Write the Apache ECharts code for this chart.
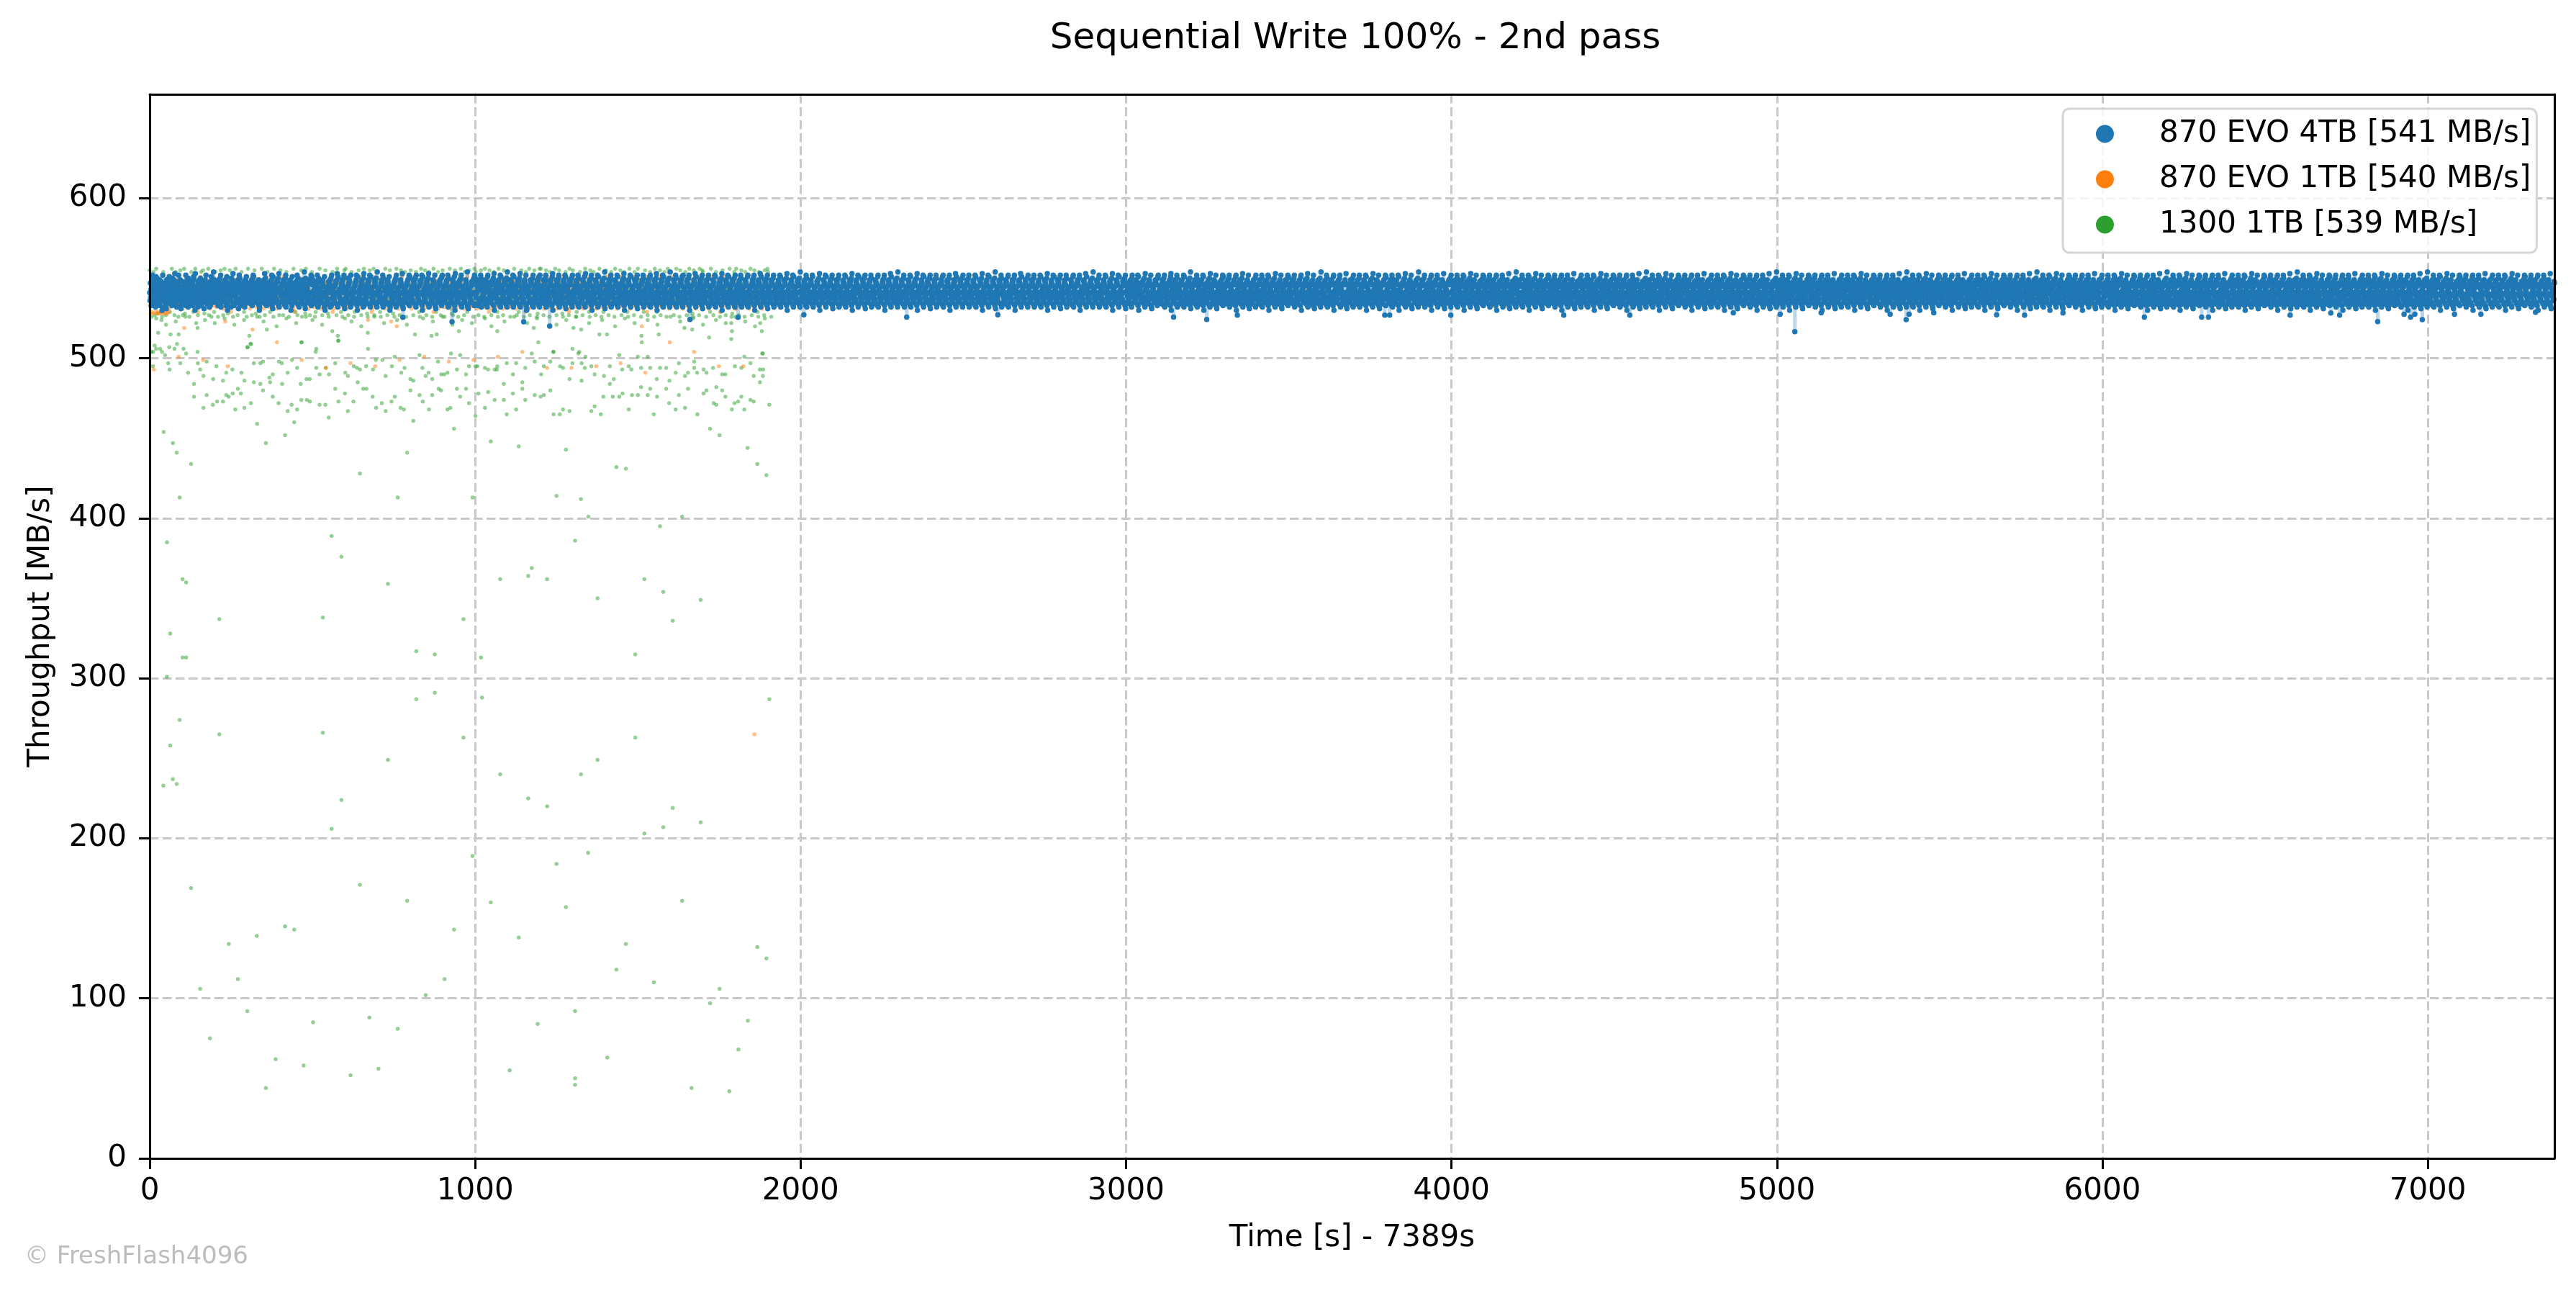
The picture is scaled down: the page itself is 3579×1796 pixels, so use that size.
<!DOCTYPE html>
<html>
<head>
<meta charset="utf-8">
<script src="https://cdn.jsdelivr.net/npm/echarts@6/dist/echarts.min.js"></script>
<style>
html,body{margin:0;padding:0;background:#ffffff;}
#chart{width:3579px;height:1796px;}
</style>
</head>
<body>
<div id="chart"></div>
<script>
// ---------------- DATA ----------------
const chartTitle = 'Sequential Write 100% - 2nd pass';
const xAxisTitle = 'Time [s] - 7389s';
const yAxisTitle = 'Throughput [MB/s]';
const xTicks = [0, 1000, 2000, 3000, 4000, 5000, 6000, 7000];
const yTicks = [0, 100, 200, 300, 400, 500, 600];
const seriesNames = ['870 EVO 4TB [541 MB/s]', '870 EVO 1TB [540 MB/s]', '1300 1TB [539 MB/s]'];
const runEnd = [7389, 1890, 1910];   // last second of each run

// band readings: one letter per sample; letter a = 526 MB/s, b = 527 ... E = 556
const levelLetters = 'abcdefghijklmnopqrstuvwxyzABCDE';
const levelBase = 526;
const evo4tbStep = 1;   // seconds between samples
const evo1tbStep = 2;
const s1300Step = 2;

const evo4tbBand = [
'pkvmrhsxAo tjwnqilugz rmpyksovij xqhnwtlreu Akmpvsgjqn ofxriwtlkm zsnvjqpuhy lrokxtmBiw qsjgnuvlpA rtkmxofhsi',
'wlqnjtvpsk iAhrmxougy nkrsjqpwlt mvhixzqole Bsjtrnkpgw uqmxlvyiho srnjkwtfqp xlmAvsiroq kujgpnhwtz lrqsvmCjkx',
'onqtvjrsml hkwxpiyuAg mjsqrlotvn kwxpuhizse qjnvmtrlok gyspxwBiuh nqrtomkjsv lxpfwAiyhq umsnkrotvj pwgixlqzsm',
'tvrjnpsqlk oimxwhuyAz kqsnjrtvom lpuwixhegs rqnvmkotjl sxwBpiyuqh mrjntvkosl qwpixAhufz ntkqrmsojv lwxpiyhBgs',
'jqrsntvolk mxwpiuhyAg sqnrjktvmo lwxpeuihzs qnrvtmkojl swpAxiyuhg rntqmvksoj lxwpiCuhfy nqrtsmkjvo lpxwiyAhzu',
'uoxkqmjrws nlitvApghy qrkwoslmnj vuxtpigzhe mnosqrkjtl wivuxgpyhA srmqjnklot uwvpixBhgz oqnrmjkslt vxwuipyAhf',
'lrjmsqonkt yvuxwipgAh nkroqjmslt puvwxAihez kmqjnrsolt wvxiupgyBh jlqrnkmsot vuxwipAhgz rsqmknjlot xwuvpiyhgC',
'sjnqrkomlt pvuxwiAgyh mkslqnrjot vxwuipzheg qjrnmskotl uvwixpygAh nmrsjqkolt wxvupiBhgf ksqrnmjtlo vuwxpiyAhz',
'mnqjrsltko xvwupiyhgA rsqnmjlkto uwpvxiAhez jqnrmsklto vwxupiyBgh srnqjmltko xupwviAhgf qmrnsjktlo wvxupiyhzA',
'knrsqjmtlo uvwxpiAgyh qsnmrjktlo xpvwuizheB nrqjsmlkto vwuxpiyAhg mqsnrjtklo uxwvpiCghf rsnqmjltko wvupxiyhAz',
'vonmiptxqh swrkjulAyg mrvtqonkjs pxilwuhgzA ksqtmornjv wlpixuyhBe nqrvomsktj lwxupihAgz ksrtqnmojv xlwpiuyhgC',
'rltjmnoxks qwvpuiAghz nsojrmqtkl vxpuwiyhBg tqmnrjoskl wpxvuiAhef rsnoqmjtkl xvwpuihyAg kqrmnjotsl vwxpiuzhgA',
'snqtkmorjl xpuviwyAgh mrkosnqtjl wvxpuihzBe qtsnrokmjl xvpwuiyAhg snkrqomtjl pwxvuiAhzf rmqtsnkojl vxwupiyhgA',
'mjqonrtkls wvpxuiAhyg rsnmjqotkl pxwvuizhgB qntrmsjokl vwxpuiyAhe kmsrnqotjl xwvupiAghz qrtmnsjokl wpxvuiyhCf',
'oqkrnmtsjl vxupwiyAgh nqrmsojtkl xwupviAhzg smrnqktojl vpwxuiyBhe rnqskmtojl wxvupiAhgz mqnrsjtokl xpvwuiyhAf',
'tnkqsrmjol upvxwiAygh qmrnskjotl vwxpuihzAg rsnqmkjtol xpwvuiyBhe nqsrmkotjl vuxwpiAhgz smqrnktojl wvxpuiyhgC',
'lqnrmstkjo xwvupiAhyg srqmnkojtl pvwxuizhgA mnrqskjotl wxvpuiyAhe qsrnmktojl upxwviBhgz nrmqsktjol vxwpuiyhAf',
'rsmnqkltjo wvxpuiyAgh nqsrmkotjl xuvwpiAhzg qmnsrkjotl vpxwuiyhBe srnqmkotjl wxupviAhgz mnqrsktjol xvwpuiyhgA',
'kmqrnsotjl vwpxuiAyhg rnsqmkjotl xwvupihzAg nqmrskotjl pvxwuiyAhe smrqnkjotl wuxvpiBhgz qrnmskotjl xvwpuiyhAf',
'nsrqmkotjl wxvpuiyAgh mqrnskjotl vpxwuiAhzg rnsqkmotjl xwvupiyhBe qmnrsktojl vxwpuiAhgz snrqmkjotl wpxvuiyhgC',
'qjtmnrskol pwvxuihAyg snrkqmtojl vxwpuiAzhg mqrsnktjol wuvxpiyhBe rnqmsjktol xpwvuiAhgz qsnrmktjol vwxpuiyAhf',
'msnqrkjtol xvwupiyAgh qrnmskotjl wpxvuiAhzg nsrqkmjotl vxuwpiyhBe mqrnsktojl wvxpuiAghz rsqnmkjtol xwpvuiyhAf',
'rqnmskjotl vuxwpiAygh nsmqrktojl xwvpuihzAg qrsnmkjotl pvwxuiyAhe snqrmkotjl wxvupiBhgz mrnqsktjol vxwpuiyhgC',
'snqkrmotjl wvxpuiyAhg qmnrskjotl xpvwuiAhzg rsnqmktojl vwxupiyhBe nqsmrkjotl uxwvpiAhgz qrmnsktojl wvxpuiyhAf',
'kqrnsmjotl xwvupiAygh rsnqmkotjl vpxwuizhAg mnqrskjotl wxvupiyAhe qsrnmkjotl vxupwiBhgz nrqmskotjl xwvpuiyhgA',
'tmrqnskjol vxwpuiyAgh nqsrmkjotl wvxpuiAhzg srqnmktojl xpwvuiyhBe mnrqskjotl vwxupiAhgz qsnrmkjotl wxvpuiyhCf',
'lnqrsmktjo wpxvuiAygh qrsnmkojtl xvwpuihzAg nmqrskjotl vxwupiyAhe rsqnmktojl wpxvuiBhgz qnrsmkjotl vxwpuiyhgA',
'qrsmnkjotl xvwpuiyAgh snrqmkotjl vwxpuiAhzg mqnrskjotl xwvupiyhBe rnsqmkjotl wvxpuiAhgz qmrnsktojl xvwupiyhAf',
'nsmqrkotjl vwxpuiAygh qrnsmkjotl xpwvuihzAg srnqmkotjl vxwupiyAhe mnqrskjotl wxvpuiBhgz rqsnmkjotl vwxpuiyhgC',
'rqnsmkjotl wxvpuiyAgh mnsqrkotjl vxwpuiAhzg qrsnmkjotl wvxupiyhBe snrqmkotjl xvwpuiAhgz nqmrskjotl wxvpuiyhAf',
'vjqtnsmrkl owipxuhgyA rtnmjsqvok lxwpiuAhze snqrvtkmjo pwlxuiyhgB rmkqsntjvo ixwlpuAhgf qtrnsmjkov xwpliuhyzA',
'onkrtqsjml ivxwpuyhAg smqjnrtkvo lpiwxuhzBe tnrqmksjvo xlwipuAygh qsnrmtjkvo wpxliuhAgz kqrtnsmjvo ilxwpuyhCf',
'ksrnqtmjvo pxlwiuhAyg qmtnsrjkvo wixlpuAhze rtqnkmsjvo lpwxiuyhgB nsqrmtkjvo xilwpuAhgf tmqknrsjvo wlpxiuyAhz',
'rmqsnktjvo lwixpuyAgh tnrskqmjvo ipxwluhzAe qkmrnstjvo xwlipuyhBg smnqrtkjvo lpxiwuAhgf nqrtkmsjvo iwxlpuyhgA',
'qtsnrkmjvo xiwpluhAyg rnmqtksjvo wlpxiuAhze kqsnrtmjvo pxwliuyhgB tmrnqskjvo ilwxpuAhgf snkqrtmjvo xpwliuyAhz',
'nrtqsmkjvo lxpwiuyAgh qskrntmjvo iwlxpuhzAe mrqnsktjvo pxwliuyhBg ntqrsmkjvo wilpxuAhgf rqmkntsjvo lxwipuyhgC',
'tkqnrsmjvo pwlxiuAhyg smrqtnkjvo xilwpuhzAe nqkrmstjvo lwpxiuyAhg rstqnmkjvo ipwxluBhgf kmqnrtsjvo xlwpiuyhgA',
'sqnrtmkjvo wixlpuyAgh rkmqnstjvo pxwliuAhze tnsqrmkjvo lwxipuyhgB qmrnktsjvo xplwiuAhgf nrsqtmkjvo iwxlpuyAhz',
'mqrtnskjvo lpxwiuhAyg nstkqrmjvo wxilpuAhze rqmnstkjvo plwxiuyhBg ktnqrsmjvo ilxwpuAhgf sqrmntkjvo wpxliuyhgC',
'rnsqkmtjvo xwlpiuyAgh qtmnrskjvo iplxwuhzAe snkrqtmjvo wlxpiuAygh mrqtnskjvo pxiwluBhgf tqsnrmkjvo lwxpiuyhgA',
'kpwqmrjsvo tlxniuhAyg rqjmnskwvo plxtiuAhze nmsqrjkwvo tlpxiuyhgB qrjnsmkwvo xtlpiuAhgf msnqrjkwvo ptxliuyAhz',
'jnrqmskwvo ltpxiuyAgh sqmnrjkwvo xptliuhzAe rjnqmskwvo tlxpiuAygh nqrsjmkwvo pxltiuBhgf qmjrnskwvo ltpxiuyhgC',
'rqsjnmkwvo xltpiuhAyg jmnqrskwvo ptlxiuAhze sqnrjmkwvo lxtpiuyhgB mrqjnskwvo tplxiuAhgf qsnjrmkwvo xltpiuyAhz',
'nsjqrmkwvo pltxiuyAgh qrmjnskwvo tlxpiuhzAe jsnqrmkwvo xptliuAygh rqnmjskwvo lxtpiuBhgf snqrjmkwvo ptlxiuyhgA',
'mjrqnskwvo ltxpiuhAyg nsqjrmkwvo xtlpiuAhze qrjnmskwvo plxtiuyhgB sjnqrmkwvo ltpxiuAhgf rqmnjskwvo xlptiuyAhz',
'qnsrjmkwvo tpxliuyAgh jrqmnskwvo lxptiuhzAe nmsqjrkwvo ptlxiuAygh rjqnsmkwvo xltpiuBhgf msqrnjkwvo tplxiuyhgC',
'sjqnrmkwvo xpltiuhAyg qrnjmskwvo ltpxiuAhze mnsjqrkwvo xtlpiuyhgB jqrsnmkwvo plxtiuAhgf nrqmjskwvo ltxpiuyAhz',
'rmnqjskwvo ptlxiuyAgh sqjrnmkwvo xltpiuhzAe qnmrjskwvo tplxiuAygh jsqnrmkwvo lxptiuBhgf rnqsjmkwvo xtlpiuyhgA',
'nqjrsmkwvo ltpxiuhAyg mrsqnjkwvo xpltiuAhze jqnrsmkwvo tlxpiuyhgB smrqjnkwvo pltxiuAhgf qjnsrmkwvo xltpiuyAhz',
'jsrqnmkwvo tlxpiuyAgh nqmsjrkwvo pxtliuhzAe rsqjnmkwvo lptxiuAygh qnjmrskwvo xtlpiuBhgf sjqrnmkwvo ptlxiuyhgC',
'hqvnrtkmso jxlpwuiAyg tmrkqnvjso xplwuiAhze qnvrtmkjso lwpxuiyhgB rtkmqnvjso wxlpuiAhgf nqrvtkmjso plxwuiyAhz',
'vrqtnkmjso xwlpuiyAgh mtnqrvkjso lpwxuihzAe rvtqnmkjso xlpwuiAygh qnmtrvkjso wpxluiBhgf tvrnqkmjso lxwpuiyhgA',
'nqtvrmkjso pxlwuihAyg rvmqntkjso wlxpuiAhze tnqrvkmjso xwpluiyhgB mqvrtnkjso lpxwuiAhgf rtqnvmkjso wxlpuiyAhz',
'qrvtnkmjso lxwpuiyAgh tnqmrvkjso pwlxuihzAe vrnqtmkjso xlwpuiAygh mtqrnvkjso wpxluiBhgf nrvqtkmjso lxpwuiyhgC',
'tqnrvmkjso xwlpuihAyg vmrqntkjso lpxwuiAhze nrqtvkmjso wxlpuiyhgB qtvmrnkjso pxlwuiAhgf rnqvtmkjso lwxpuiyAhz',
'vnqrtkmjso plxwuiyAgh rqtmnvkjso xwlpuihzAe tvqnrmkjso lpwxuiAygh nrmqvtkjso xlpwuiBhgf qvrtnkmjso wxlpuiyhgA',
'rtnqvmkjso lwxpuihAyg qnvmrtkjso pxlwuiAhze vqrntkmjso xwlpuiyhgB tmnqrvkjso lpxwuiAhgf nqtvrmkjso wlxpuiyAhz',
'nvrqtkmjso xlwpuiyAgh tqmrnvkjso wpxluihzAe qrvnmtkjso lxwpuiAygh vtnqrmkjso pwlxuiBhgf rqnvtkmjso xlwpuiyhgC',
'qtrvnmkjso wpxluihAyg nrmqtvkjso lxwpuiAhze trqvnkmjso xplwuiyhgB vnqmrtkjso wlxpuiAhgf qrtnvmkjso plwxuiyAhz',
'vqnrtkmjso xwlpuiyAgh mrtqnvkjso plxwuihzAe nqvrmtkjso wxlpuiAygh tqrnvkmjso lpxwuiBhgf rnvqtmkjso xwpluiyhgA',
'kilsqnmrvt pjowxuhAyg qnkmsrvtil jopwxuAhze smrnqkvtil xpjowuyhgB nqmkrsvtil owxjpuAhgf rsnqmkvtil jpxowuyAhz',
'mrnsqkvtil owjpxuyAgh qksnrmvtil xpowjuhzAe nsqmrkvtil jwxopuAygh rmkqnsvtil pxjowuBhgf sqnrkmvtil owxpjuyhgC',
'qnrmskvtil jxpowuhAyg srkqnmvtil wjopxuAhze mnqrskvtil xpjowuyhgB rsnkqmvtil owjxpuAhgf nqmsrkvtil jpxowuyAhz',
'snqrkmvtil pwjoxuyAgh rmnsqkvtil ojxpwuhzAe qsrnkmvtil xwpojuAygh nkqmrsvtil jpxowuBhgf rqsnmkvtil owjpxuyhgA',
'rkqnsmvtil xojpwuhAyg nsmrqkvtil pwjxouAhze krqnsmvtil ojpwxuyhgB snrqmkvtil xjopwuAhgf qmnrskvtil wpjoxuyAhz',
'nrsqkmvtil jowpxuyAgh qmrnskvtil xpjowuhzAe rsnqkmvtil owxjpuAygh mqkrnsvtil jpwoxuBhgf snrmqkvtil xojpwuyhgC',
'qsnrmkvtil pxjowuhAyg krmqnsvtil wojpxuAhze nqsrkmvtil xpwojuyhgB rmnqskvtil jowxpuAhgf sqkrnmvtil pxojwuyAhz',
'mnrqskvtil owjxpuyAgh rsqnkmvtil jpowxuhzAe qnmrskvtil xjwopuAygh srkqnmvtil pwojxuBhgf nqrsmkvtil ojxpwuyhgA',
'rqsmnkvtil xpjowuhAyg nkrqsmvtil owjpxuAhze smqnrkvtil jxpowuyhgB qrnkmsvtil wojxpuAhgf mnsqrkvtil pxjowuyAhz',
'snkrqmvtil jwopxuyAgh qrsnmkvtil xpojwuhzAe nmrqskvtil owxjpuAygh rqsknmvtil jpxowuBhgf kqnrsmvtil xojwpuyhgC',
'wlpsnrqkmv itojxhuAyg rnqpmslkwv ixtojuAhze snrqkpmlwv tjoxiuyhgB qmnrspklwv oxitjuAhgf nsrqmkplwv jtoixuyAhz',
'qrnspmklwv toxijuyAgh mnsrqpklwv ijtoxuhzAe rqpnsmklwv xoitjuAygh snmrqpklwv jtixouBhgf pqrnsmklwv oxtijuyhgA',
'nsprqmklwv ixjotuhAyg qrmnspklwv toxijuAhze psnrqmklwv jitoxuyhgB mqrpnsklwv xojituAhgf rnsqpmklwv itjoxuyAhz',
'rpqsnmklwv ojtixuyAgh nmqrspklwv xitjouhzAe qsrnpmklwv tojxiuAygh prnqsmklwv ixotjuBhgf snqrpmklwv jtoixuyhgC',
'mqsrnpklwv toixjuhAyg rsnpqmklwv ijoxtuAhze nqmrspklwv xtjoiuyhgB sprnqmklwv oitjxuAhgf qrnspmklwv jxotiuyAhz'
];
// 870 EVO 4TB readings that fall out of the band [time s, MB/s]
const evo4tbDips = [
[778,525.6],[929,522.8],[1149,522.8],[1229,520.1],[1660,524.3],[1808,525.6],[2010,527.2],[2326,525.7],
[2606,527.2],[3146,525.7],[3248,524.3],[3342,527],[3795,527],[3810,527],[3998,527],[4345,527],[4548,527],
[4866,528.4],[5010,527.5],[5055,516.6],[5136,528.4],[5348,527.5],[5397,524.2],[5406,527.5],[5482,528.4],
[5675,527.2],[5761,527],[5879,528.3],[6129,525.7],[6305,525.7],[6326,525.7],[6577,527],[6702,528.3],
[6729,527],[6846,522.9],[6927,527.5],[6947,525.7],[6960,527.5],[6983,524.2],[7082,527.5],[7163,527.5],[7331,528.8]
];

const evo1tbBand = [
'hcqdmtcjwd ncrdkcvdpc ldscudmcqd fmtkrzhpvl gnsxjqwiuo kftmrhzpvy lgnsojqxiw ukfrdmthzp vlgnsjoqxw iukfrmthzp',
'vlgnsjoqxw iukfrmthzp ylgnsdjoqx wiukfrmthz pvlgnsjoqx wiukfrmthz pvlygnsjoq xwiukfrmth zpvlgnsjoq xwiukfrmth',
'mqtkhzrpvl gnsjoxqwiu kfdmtrhzpv lgynsjoqxw iuktfrmhzp vlgnsjqoxw iukfmrthzp lvgnsjoqxw udkfrmthzp vlgnsjoqwx',
'ktfrmhzpvl gnsojqxwiu kfrmthzpvl gnsjoqxwiu kdfrmthzpv lgnsjoqxwi ukfrmthzpv lgnsjoqxwi ukfrmthzpv lgnsjoqxwi',
'ukfrmthzpv lgnsjoqxwi ukfrmthzpv lgnsjodqxw iukfrmthzp vlgnsjoqxw iukfrmthzp vlgnsjoqxw iukfrmthzp vlgnsjoqxw',
'iukfrmthzp vlgnsjoqxw idkfrmthzp vlgnsjoqxw iukfrmthzp vlgnsjoqxw iukfrmthzp vlgnsjodxw iukfrmthzp vlgnsjoqxw',
'qxwiukfrmt hzpvlgnsjo qxwiukfrmt hzpvlgnsjo qxwidkfrmt hzpvlgnsjo qxwiukfrmt hzpvlgnsjo qxwiukfrmt hzpvlgnsjo',
'mthzpvlgns joqxwiukfr mthzpvlgns joqxwiukfr mthzpvlgns joqxwiukfr mthzdvlgns joqxwiukfr mthzpvlgns joqxwiukfr',
'rmthzpvlgn sjoqxwiukf rmthzpvlgn sjoqxwiukf rmthzpvlgn sjoqxwiukf rmthzpvlgn sjoqxwidkf rmthzpvlgn sjoqxwiukf',
'kfrmthzpvl gnsjoqxwiu kfrmthzpvl gnsjoqxwiu kfrmthzpvl gnsjoqxwiu kfrmthzpvl gnsjoqxwiu kfrmthzpvl gnsjoqxwiu'
];
const evo1tbOutliers = [
[13,493],[89,501],[106,519],[164,499],[232,523],[240,495],[316,518],[391,510],[467,499],[541,494],[617,497],
[671,524],[693,495],[742,523],[759,520],[768,499],[844,501],[919,498],[995,499],[1070,501],[1145,504],
[1221,494],[1296,494],[1372,495],[1447,497],[1512,520],[1523,491],[1598,510],[1673,504],[1749,495],[1824,495],[1858,265]
];

const s1300Band = [
'DmqaksCrbv Entcpxlkda uCqmobrvsk ldkuEprnbm CsqlaovDtk mbrEcnupqj waksCqmdov ExnlbpkrtC tmDqcsvoln Ebruqamkpd',
'kCtmpaosvD qlnbuErkmx cswDotqlaj pnEkrbvumt lCsqodxkpa uEntmrlbqw kDscovpjna rlEtqkmbux sCpnodvlqk aEmtruxkjb',
'nDrlsbqkou Ctmpaxvwkr qEnodslbmt kupDavrqsc EltmkobnqC xrpsadvukm nElqtbrkso Dvmpcaxqul tCkrsnobEm qvlpdxaurD',
'sEqkmbtrlo Cnvpadxkqu mDtslbrqnE ovkpcausDm qlrtEbnkvs xCpmdaqlkt rnEsvbolqD mkpuctasxE qlrnbvDkom tpCsalqruk',
'pDlrnbskqC tmoxdavEkq rlsDnbtpmC uqkvaoEsrl dmnCtpxbqk Dlsaovrumk nEqtcpblsD rkvoamxuEq tlnbCkspdr mDqluvoakE',
'rCktmbsqoD nvplaEuxqr kmDtsbolnC qvrpdaEkmu slnbDqtrko Cvpxamlsqu Ektnbrpdom qDsvlaxkCu rtnEbqmpsk lDovracuxE',
'mEqlnbsrkD tpvoaCuxmq rksEtbonlD qvmpcaukrC sltnbEqmko Dvrpxadlsq uCnktbrmpE qvlosdaDkx rmCntbqspl kEovaurdmq',
'tDkrmbqsnC lpvoaExumq kslDtbronC qpmvdauEkr lsntbCqmko Evrpxaslqd uDnktbrmpC qvlosaEkxd rmntDbqspl kCovauErmq',
'qCnrlbskmE tpovaDxuqk rsmCtbolnE qvkpcaDurm slntbEqkoD Cvrpxamlsq udEnktbrmp Cqvlosadkx Drmntbqspl kEovacurCm',
'nEqlrbskmD tpovaCxukq rsmEtbolnD qvkpdaCurm slntbDqkoE Cvrpxamlsq uEnktbrmpD qvlosacCkx rmntEbqspl kDovaurdmC'
];
const s1300Outliers = [
[5,504],[10,504],[20,506],[32,506],[38,504],[47,502],[76,506],[84,509],[104,506],[112,503],[15,508],[60,507],
[10,495],[118,491],[57,497],[94,497],[61,493],[147,504],[148,497],[155,493],[165,489],[175,498],[136,484],[136,476],
[175,477],[165,469],[195,487],[205,495],[225,486],[194,471],[207,473],[225,473],[235,477],[243,476],[235,491],[254,493],
[255,478],[263,468],[271,481],[280,478],[282,491],[291,486],[291,469],[300,507],[310,509],[311,472],[320,497],[320,485],
[340,484],[348,480],[340,497],[348,498],[368,488],[370,485],[378,490],[378,476],[397,498],[406,497],[407,484],[396,472],
[424,491],[424,467],[436,471],[437,499],[453,494],[453,468],[464,484],[466,474],[467,510],[482,487],[492,487],[483,474],
[492,473],[512,494],[512,506],[510,504],[522,490],[522,471],[540,471],[541,494],[551,490],[570,497],[570,481],[580,473],
[580,511],[601,491],[600,478],[609,489],[609,467],[626,473],[627,495],[637,494],[639,485],[646,493],[656,481],[666,481],
[665,495],[671,506],[685,476],[696,469],[695,499],[715,499],[686,493],[713,472],[725,489],[725,467],[743,473],[744,495],
[753,476],[753,501],[773,491],[771,469],[781,468],[783,494],[801,487],[810,486],[801,480],[829,477],[829,502],[838,494],
[839,473],[848,489],[857,491],[858,468],[868,477],[868,487],[886,498],[888,481],[896,490],[895,480],[905,490],[915,491],
[915,468],[924,469],[926,503],[944,493],[944,481],[954,502],[954,476],[972,490],[972,481],[981,495],[981,472],[1001,495],
[1007,495],[1001,464],[1010,478],[1030,494],[1040,493],[1030,469],[1040,479],[1060,493],[1067,493],[1060,474],[1068,495],
[1088,484],[1088,474],[1097,497],[1097,465],[1116,490],[1116,478],[1126,497],[1126,468],[1145,485],[1145,481],[1154,494],
[1154,474],[1174,503],[1183,498],[1183,477],[1201,476],[1211,477],[1203,490],[1211,495],[1231,498],[1231,480],[1241,504],
[1241,465],[1260,465],[1270,468],[1270,494],[1261,495],[1290,467],[1290,487],[1299,506],[1299,497],[1320,504],[1317,503],
[1327,497],[1337,494],[1327,486],[1339,501],[1357,495],[1357,467],[1367,490],[1367,470],[1386,465],[1394,476],[1396,489],
[1414,495],[1414,484],[1423,476],[1443,476],[1426,487],[1443,502],[1452,493],[1453,478],[1472,495],[1472,468],[1480,493],
[1482,477],[1500,477],[1500,501],[1530,501],[1510,494],[1538,494],[1510,482],[1512,510],[1530,477],[1538,481],[1549,465],
[1558,487],[1559,476],[1568,494],[1587,494],[1587,481],[1597,486],[1596,472],[1616,491],[1616,468],[1626,497],[1626,477],
[1645,489],[1645,469],[1654,491],[1654,481],[1673,498],[1673,494],[1682,491],[1683,465],[1702,493],[1711,491],[1702,478],
[1711,480],[1731,494],[1733,472],[1741,471],[1741,482],[1759,490],[1769,490],[1759,480],[1769,476],[1789,468],[1797,472],
[1808,473],[1798,495],[1818,494],[1818,476],[1827,501],[1827,468],[1846,497],[1846,474],[1856,473],[1856,489],[1875,493],
[1875,485],[1884,489],[1884,503],[1904,471],[1885,493],
[36,524],[143,522],[26,516],[64,515],[89,515],[306,514],[311,509],[301,507],[147,519],[360,518],[466,510],[579,511],
[578,514],[670,516],[561,517],[815,515],[866,514],[882,515],[950,517],[1068,517],[1180,519],[1194,510],[1240,504],
[1302,519],[1326,518],[1382,515],[1405,515],[1511,514],[1564,515],[1643,519],[1667,518],[1719,513],[1787,512],[1789,517],
[1881,517],[1882,503],[1876,522],[1787,522],
[20,525],[50,521],[80,523],[110,526],[170,524],[200,522],[230,525],[260,521],[290,524],[330,526],[350,523],[390,520],
[420,525],[450,522],[480,526],[500,524],[530,521],[600,525],[620,523],[650,520],[690,526],[720,522],[760,524],[790,521],
[840,525],[870,523],[900,526],[930,521],[960,524],[990,522],[1030,525],[1050,520],[1090,523],[1120,526],[1160,522],
[1190,525],[1250,521],[1280,524],[1310,526],[1350,522],[1390,524],[1430,520],[1460,525],[1490,522],[1530,524],[1560,521],
[1600,526],[1630,523],[1670,525],[1700,521],[1740,524],[1770,522],[1800,526],[1830,523],[1860,520],[1890,525],
[43,454],[71,447],[83,441],[127,434],[92,413],[330,459],[357,447],[416,452],[444,460],[550,463],[646,428],[762,413],
[791,441],[810,461],[935,456],[992,413],[1048,448],[1134,445],[1250,414],[1279,443],[1325,412],[1434,432],[1463,431],
[1722,456],[1751,452],[1837,444],[1867,434],[1895,427],
[53,385],[559,389],[589,376],[101,362],[112,360],[732,359],[214,337],[532,338],[964,337],[63,328],[101,313],[112,313],
[819,317],[876,315],[1018,313],[53,301],[1348,401],[1636,401],[1568,395],[1307,386],[1174,369],[1163,364],[1077,362],
[1221,362],[1520,362],[1578,354],[1376,350],[1693,349],[1607,336],[1492,315],
[819,287],[876,291],[1021,288],[1904,287],[92,274],[214,265],[532,266],[964,263],[1492,263],[63,258],[732,249],[1376,249],
[1077,240],[1325,240],[71,237],[83,234],[42,233],[589,224],[1163,225],[1221,220],[1607,219],[1693,210],[1578,207],[559,206],[1520,203],
[992,189],[1347,191],[1250,184],[127,169],[646,171],[791,161],[1048,160],[1279,157],[1636,161],[416,145],[444,143],[329,139],
[243,134],[935,143],[1134,138],[1463,134],[1867,132],[1895,125],[1434,118],[271,112],[906,112],[1549,110],[155,106],[1751,106],
[848,102],[1722,97],[300,92],[1307,92],[1838,86],[675,88],[502,85],[762,81],[1192,84],[185,75],[1809,68],[1406,63],[387,62],
[473,58],[703,56],[617,52],[1106,55],[1307,50],[1307,46],[357,44],[1665,44],[1781,42]
];

// ---------------- BUILD ----------------
function decodeBand(rows, step, endTime) {
  const s = rows.join('').replace(/\s+/g, '');
  const out = [];
  for (let i = 0; i < s.length; i++) {
    const t = i * step;
    if (t > endTime) break;
    const k = levelLetters.indexOf(s[i]);
    if (k >= 0) out.push([t, levelBase + k]);
  }
  return out;
}
const evo4tbData = decodeBand(evo4tbBand, evo4tbStep, runEnd[0]).concat(evo4tbDips).sort((a, b) => a[0] - b[0]);
const evo1tbData = decodeBand(evo1tbBand, evo1tbStep, runEnd[1]).concat(evo1tbOutliers);
const s1300Data = decodeBand(s1300Band, s1300Step, runEnd[2]).concat(s1300Outliers);

const FONT = 'DejaVu Sans';
const spine = { show: true, onZero: false, lineStyle: { color: '#000000', width: 3 } };
const noAxisBits = { axisTick: { show: false }, axisLabel: { show: false }, splitLine: { show: false } };
const gridLine = { show: true, lineStyle: { color: '#c8c8c8', width: 3, type: [12.5, 5.5] } };
const plain = v => String(v);

const chart = echarts.init(document.getElementById('chart'), null, { renderer: 'canvas' });
chart.setOption({
  animation: false,
  backgroundColor: '#ffffff',
  textStyle: { fontFamily: FONT },
  title: {
    text: chartTitle, left: 1878, top: 24, textAlign: 'center',
    textStyle: { fontFamily: FONT, fontSize: 50, fontWeight: 'normal', color: '#000000' }
  },
  legend: {
    orient: 'vertical', left: 2866, top: 151, z: 20,
    padding: [10, 8, 14, 46], itemGap: 13, itemWidth: 25, itemHeight: 25, icon: 'circle',
    backgroundColor: 'rgba(255,255,255,0.8)', borderColor: '#d5d5d5', borderWidth: 3, borderRadius: 9,
    itemStyle: { opacity: 1 },
    textStyle: { fontFamily: FONT, fontSize: 42, color: '#000000', lineHeight: 50, padding: [0, 0, 0, 58] },
    data: seriesNames
  },
  grid: { left: 208, right: 30, top: 131, bottom: 187, containLabel: false },
  xAxis: [
    { type: 'value', min: 0, max: runEnd[0], interval: 1000, position: 'bottom', z: 10,
      axisLine: spine,
      axisTick: { show: true, length: 15, lineStyle: { color: '#000000', width: 3 }, customValues: xTicks },
      axisLabel: { fontFamily: FONT, fontSize: 42, color: '#000000', margin: 25, customValues: xTicks, formatter: plain },
      splitLine: { show: false },
      name: xAxisTitle, nameLocation: 'middle', nameGap: 90,
      nameTextStyle: { fontFamily: FONT, fontSize: 42, color: '#000000' } },
    Object.assign({ type: 'value', min: 0, max: runEnd[0], interval: 1000, position: 'bottom', z: 0,
      axisLine: { show: false } }, noAxisBits, { splitLine: gridLine }),
    Object.assign({ type: 'value', min: 0, max: runEnd[0], position: 'top', z: 10, axisLine: spine }, noAxisBits)
  ],
  yAxis: [
    { type: 'value', min: 0, max: 665, interval: 100, position: 'left', z: 10,
      axisLine: spine,
      axisTick: { show: true, length: 15, lineStyle: { color: '#000000', width: 3 }, customValues: yTicks },
      axisLabel: { fontFamily: FONT, fontSize: 42, color: '#000000', margin: 32, customValues: yTicks, formatter: plain },
      splitLine: { show: false },
      name: yAxisTitle, nameLocation: 'middle', nameGap: 130, nameRotate: 90,
      nameTextStyle: { fontFamily: FONT, fontSize: 42, color: '#000000' } },
    Object.assign({ type: 'value', min: 0, max: 665, interval: 100, position: 'left', z: 0,
      axisLine: { show: false } }, noAxisBits, { splitLine: gridLine }),
    Object.assign({ type: 'value', min: 0, max: 665, position: 'right', z: 10, axisLine: spine }, noAxisBits)
  ],
  series: [
    { name: seriesNames[2], type: 'scatter', data: s1300Data, symbol: 'circle', symbolSize: 5.5, z: 2,
      progressive: 0, large: false, silent: true,
      itemStyle: { color: '#2ca02c', opacity: 0.5 } },
    { name: seriesNames[1], type: 'scatter', data: evo1tbData, symbol: 'circle', symbolSize: 5.5, z: 3,
      progressive: 0, large: false, silent: true,
      itemStyle: { color: '#ff7f0e', opacity: 0.5 } },
    { name: '870 EVO 4TB trace', type: 'line', data: evo4tbData, showSymbol: false, z: 4, silent: true,
      lineStyle: { color: '#1f77b4', width: 5, opacity: 0.3 }, itemStyle: { color: '#1f77b4' } },
    { name: seriesNames[0], type: 'scatter', data: evo4tbData, symbol: 'circle', symbolSize: 7.5, z: 5,
      progressive: 0, large: false, silent: true,
      itemStyle: { color: '#1f77b4', opacity: 1 } }
  ],
  graphic: [
    { type: 'text', left: 34, top: 1729, z: 20,
      style: { text: '\u00a9 FreshFlash4096', fontFamily: FONT, fontSize: 34, fill: '#bdbdbd' } }
  ]
});
</script>
</body>
</html>
